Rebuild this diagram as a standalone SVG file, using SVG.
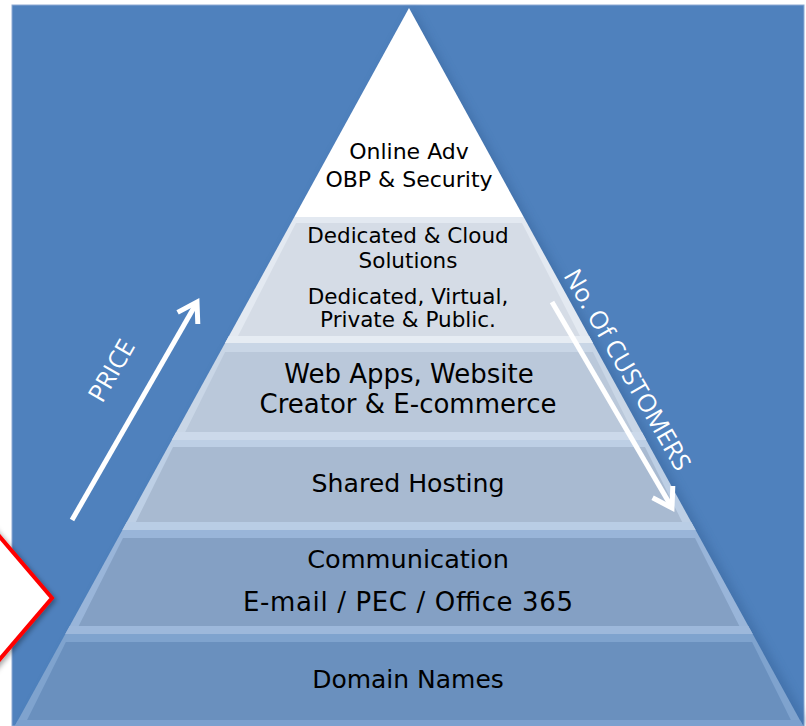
<svg xmlns="http://www.w3.org/2000/svg" width="806" height="726" viewBox="0 0 806 726">
  <defs>
    <filter id="soft" x="-10%" y="-10%" width="120%" height="120%">
      <feGaussianBlur stdDeviation="4"/>
    </filter>
    <filter id="shadow" x="-50%" y="-50%" width="200%" height="200%">
      <feDropShadow dx="2" dy="2" stdDeviation="2.5" flood-color="#000" flood-opacity="0.35"/>
    </filter>
  </defs>
  <style>
    .lbl { font-family: "DejaVu Sans", "Liberation Sans", sans-serif; fill: #000; text-anchor: middle; }
    .side { font-family: "Open Sans", "Liberation Sans", sans-serif; fill: #fff; text-anchor: middle; font-size: 25px; }
    .arr { fill: none; stroke: #fff; stroke-width: 5; stroke-linecap: butt; stroke-linejoin: miter; }
  </style>
  <rect x="0" y="0" width="806" height="726" fill="#fff"/>
  <rect x="12" y="5" width="792" height="721" fill="#4F81BD" stroke="#8DAAD3" stroke-width="1"/>
  <polygon points="409,8 806,726 18,726" fill="#2E5A8E" opacity="0.35" filter="url(#soft)" transform="translate(4,0)"/>

  <g id="layer-online-adv">
    <polygon points="409,8 523.7,217 294.3,217" fill="#fff"/>
    <text class="lbl" x="409" y="159" font-size="22">Online Adv</text>
    <text class="lbl" x="409" y="187" font-size="22">OBP &amp; Security</text>
  </g>

  <g id="layer-dedicated">
    <polygon points="294.3,217 523.7,217 592.9,343 225.1,343" fill="#E3E9F1"/>
    <polygon points="296,223 522,223 580,336 238,336" fill="#D5DCE6"/>
    <polygon points="228.9,336 589.1,336 592.9,343 225.1,343" fill="#E6ECF3"/>
    <text class="lbl" x="408" y="243" font-size="21.5">Dedicated &amp; Cloud</text>
    <text class="lbl" x="408" y="268" font-size="21.5">Solutions</text>
    <text class="lbl" x="408" y="304" font-size="21.5">Dedicated, Virtual,</text>
    <text class="lbl" x="408" y="327" font-size="21.5">Private &amp; Public.</text>
  </g>

  <g id="layer-web-apps">
    <polygon points="225.1,343 592.9,343 646.2,440 171.8,440" fill="#C9D6E6"/>
    <polygon points="225.1,352 592.9,352 632.8,432 185.2,432" fill="#BAC8DA"/>
    <polygon points="176.2,432 641.8,432 646.2,440 171.8,440" fill="#CCD9EA"/>
    <text class="lbl" x="409" y="383" font-size="26">Web Apps, Website</text>
    <text class="lbl" x="408" y="413" font-size="26">Creator &amp; E-commerce</text>
  </g>

  <g id="layer-shared-hosting">
    <polygon points="171.8,440 646.2,440 695.6,530 122.4,530" fill="#BDCFE5"/>
    <polygon points="173,447 645,447 682.2,522 135.8,522" fill="#A8BAD1"/>
    <polygon points="126.8,522 691.2,522 695.6,530 122.4,530" fill="#B9CDE5"/>
    <text class="lbl" x="408" y="492" font-size="25.2">Shared Hosting</text>
  </g>

  <g id="layer-communication">
    <polygon points="122.4,530 695.6,530 752.7,634 65.3,634" fill="#99B5D9"/>
    <polygon points="123,538 695,538 739.3,626 78.7,626" fill="#84A0C4"/>
    <polygon points="69.7,626 748.3,626 752.7,634 65.3,634" fill="#9DB8DB"/>
    <text class="lbl" x="408" y="568" font-size="25.6">Communication</text>
    <text class="lbl" x="408" y="611" font-size="26" textLength="330" lengthAdjust="spacing">E-mail / PEC / Office 365</text>
  </g>

  <g id="layer-domain-names">
    <polygon points="65.3,634 752.7,634 803.2,726 14.8,726" fill="#7FA3CE"/>
    <polygon points="65.9,642 752.1,642 790.9,720 27.1,720" fill="#6A90BE"/>
    <polygon points="18.1,720 799.9,720 803.2,726 14.8,726" fill="#7BA0CE"/>
    <text class="lbl" x="408" y="688" font-size="25">Domain Names</text>
  </g>

  <g id="callout">
    <polygon points="-40,490 52,598 -40,706" fill="#fff" stroke="#FF0000" stroke-width="4" filter="url(#shadow)"/>
  </g>

  <g id="arrows">
    <line class="arr" x1="72" y1="520" x2="196" y2="304"/>
    <polyline class="arr" points="177.6,312.4 197,302 197.8,324"/>
    <line class="arr" x1="552" y1="302" x2="671" y2="506"/>
    <polyline class="arr" points="652.6,497.7 672,508 672.8,486"/>
  </g>

  <g id="axis-labels">
    <text class="side" transform="translate(119,375) rotate(-60)">PRICE</text>
    <text class="side" transform="translate(620,374) rotate(60)">No. Of CUSTOMERS</text>
  </g>
</svg>
